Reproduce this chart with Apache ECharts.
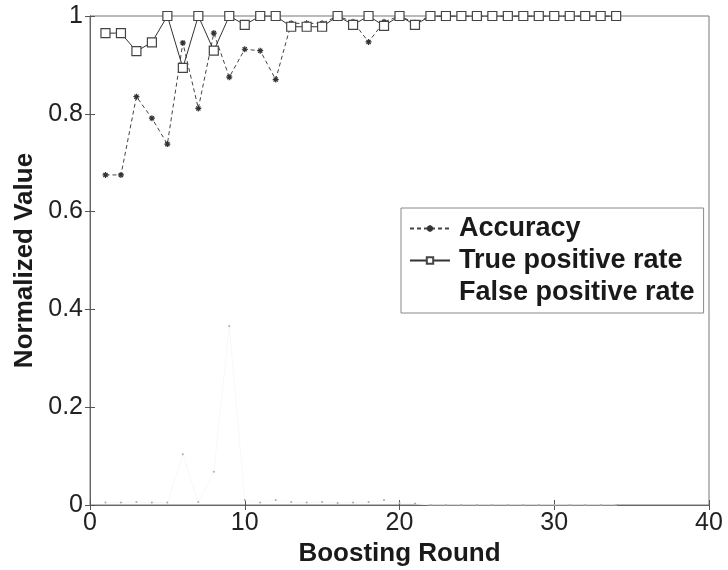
<!DOCTYPE html>
<html>
<head>
<meta charset="utf-8">
<script src="https://cdn.jsdelivr.net/npm/echarts@6/dist/echarts.min.js"></script>
<style>
html, body { margin: 0; padding: 0; background: #fff; }
#main { width: 728px; height: 570px; }
</style>
</head>
<body>
<div id="main"></div>
<script>
// boosting rounds 1..34
var rounds = [1, 2, 3, 4, 5, 6, 7, 8, 9, 10, 11, 12, 13, 14, 15, 16, 17, 18, 19, 20,
	21, 22, 23, 24, 25, 26, 27, 28, 29, 30, 31, 32, 33, 34];
var accuracy = [0.675, 0.675, 0.835, 0.791, 0.738, 0.945, 0.811, 0.965, 0.875, 0.932,
	0.929, 0.870, 0.985, 0.985, 0.985, 1.0, 0.988, 0.947, 0.988, 1.0,
	0.986, 1, 1, 1, 1, 1, 1, 1, 1, 1, 1, 1, 1, 1];
var tpRate = [0.965, 0.965, 0.928, 0.946, 1.0, 0.894, 1.0, 0.929, 1.0, 0.982,
	1.0, 1.0, 0.978, 0.978, 0.978, 1.0, 0.982, 1.0, 0.980, 1.0,
	0.982, 1, 1, 1, 1, 1, 1, 1, 1, 1, 1, 1, 1, 1];
var fpRate = [0.005, 0.005, 0.006, 0.005, 0.005, 0.104, 0.006, 0.068, 0.366, 0.01,
	0.005, 0.01, 0.006, 0.005, 0.006, 0.004, 0.005, 0.006, 0.01, 0.004,
	0.003, 0, 0, 0, 0, 0, 0, 0, 0, 0, 0, 0, 0, 0];
var xTicks = [0, 40, 10];
var yTicks = [0, 1, 0.2];

function pairs(vals) {
	var out = [];
	for (var i = 0; i < rounds.length; i++) out.push([rounds[i], vals[i]]);
	return out;
}

var font = 'Liberation Sans, Arial, sans-serif';
var axisCommon = {
	axisLine: { show: true, lineStyle: { color: '#666', width: 1 } },
	axisTick: { show: true, inside: true, length: 5, lineStyle: { color: '#555' } },
	splitLine: { show: false }
};

var option = {
	backgroundColor: '#fff',
	animation: false,
	grid: {
		left: 90, right: 19, top: 16, bottom: 65,
		outerBoundsMode: 'none', containLabel: false,
		show: true, borderColor: '#777', borderWidth: 1
	},
	legend: {
		orient: 'vertical',
		left: 401,
		top: 208,
		backgroundColor: '#fff',
		borderColor: '#888',
		borderWidth: 1,
		padding: [7, 9, 7, 8],
		itemGap: 5,
		itemWidth: 40,
		itemHeight: 8,
		textStyle: { fontFamily: font, fontWeight: 'bold', fontSize: 27, color: '#1a1a1a', padding: [0, 0, 0, 4] },
		data: [
			{ name: 'Accuracy' },
			{ name: 'True positive rate' },
			{ name: 'False positive rate', icon: 'none' }
		]
	},
	xAxis: [
		Object.assign({
			type: 'value', min: xTicks[0], max: xTicks[1], interval: xTicks[2],
			name: 'Boosting Round', nameLocation: 'middle', nameGap: 33,
			nameTextStyle: { fontFamily: font, fontWeight: 'bold', fontSize: 26, color: '#1a1a1a' },
			axisLabel: { fontFamily: font, fontSize: 25, color: '#222', margin: 6 }
		}, axisCommon),
		Object.assign({
			type: 'value', position: 'top', min: xTicks[0], max: xTicks[1], interval: xTicks[2],
			axisLabel: { show: false }
		}, axisCommon)
	],
	yAxis: [
		Object.assign({
			type: 'value', min: yTicks[0], max: yTicks[1], interval: yTicks[2],
			name: 'Normalized Value', nameLocation: 'middle', nameGap: 52,
			nameTextStyle: { fontFamily: font, fontWeight: 'bold', fontSize: 26, color: '#1a1a1a' },
			axisLabel: { fontFamily: font, fontSize: 25, color: '#222', margin: 7 }
		}, axisCommon),
		Object.assign({
			type: 'value', position: 'right', min: yTicks[0], max: yTicks[1], interval: yTicks[2],
			axisLabel: { show: false }
		}, axisCommon)
	],
	series: [
		{
			name: 'False positive rate',
			type: 'line',
			data: pairs(fpRate),
			symbol: 'circle',
			symbolSize: 2,
			itemStyle: { color: '#aaa' },
			lineStyle: { color: '#f8f8f8', width: 1 },
			z: 1
		},
		{
			name: 'Accuracy',
			type: 'line',
			data: pairs(accuracy),
			symbol: 'path://M0,5 L10,5 M5,0 L5,10 M1.5,1.5 L8.5,8.5 M8.5,1.5 L1.5,8.5',
			symbolSize: 6,
			itemStyle: { color: '#333', borderColor: '#333', borderWidth: 1.2 },
			lineStyle: { color: '#444', width: 1, type: [4, 3] },
			z: 2
		},
		{
			name: 'True positive rate',
			type: 'line',
			data: pairs(tpRate),
			symbol: 'rect',
			symbolSize: 9,
			itemStyle: { color: '#fff', borderColor: '#444', borderWidth: 1.2 },
			lineStyle: { color: '#333', width: 1 },
			z: 3
		}
	]
};

var myChart = echarts.init(document.getElementById('main'));
myChart.setOption(option);
</script>
</body>
</html>
